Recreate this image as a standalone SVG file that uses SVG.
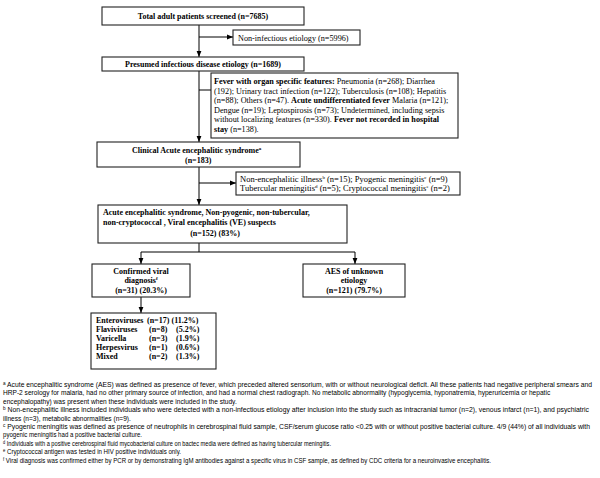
<svg xmlns="http://www.w3.org/2000/svg" width="600" height="478" viewBox="0 0 600 478">
<defs>
<marker id="ah" markerUnits="userSpaceOnUse" markerWidth="6" markerHeight="6" viewBox="0 0 6 6" refX="6" refY="3" orient="auto">
<path d="M0,0.6 L6,3 L0,5.4 Z" fill="#000"/>
</marker>
<style>
.box{fill:#fff;stroke:#222;stroke-width:1.1}
.t{font-family:"Liberation Serif","Times New Roman",serif;font-size:8px;fill:#000}
.r{font-size:8.2px}
.b{font-weight:bold}
.c{text-anchor:middle}
.sup{font-size:5px}
.ln{fill:none;stroke:#000;stroke-width:1}
.fn{font-family:"Liberation Sans",Arial,sans-serif;font-size:6.6px;fill:#000}
.fs{font-size:4.5px}
</style>
</defs>
<rect width="600" height="478" fill="#fff"/>
<g id="connectors">
<path class="ln" d="M199,25 V57" marker-end="url(#ah)"/>
<path class="ln" d="M199,37 H233" marker-end="url(#ah)"/>
<path class="ln" d="M199,71 V142" marker-end="url(#ah)"/>
<path class="ln" d="M199,90 H211"/>
<path class="ln" d="M199,167 V205" marker-end="url(#ah)"/>
<path class="ln" d="M199,183 H236" marker-end="url(#ah)"/>
<path class="ln" d="M199,243 V252 M141,252 H355"/>
<path class="ln" d="M141,252 V264" marker-end="url(#ah)"/>
<path class="ln" d="M355,252 V264" marker-end="url(#ah)"/>
<path class="ln" d="M141,297 V313" marker-end="url(#ah)"/>
</g>
<g id="n1">
<rect class="box" x="102" y="7" width="202" height="18"/>
<text class="t b c" x="203" y="19">Total adult patients screened (n=7685)</text>
</g>
<g id="n2">
<rect class="box" x="233" y="30" width="127" height="15"/>
<text class="t r" x="238" y="40.5">Non-infectious etiology (n=5996)</text>
</g>
<g id="n3">
<rect class="box" x="102" y="57" width="202" height="14"/>
<text class="t b c" x="203" y="67">Presumed infectious disease etiology (n=1689)</text>
</g>
<g id="n4">
<rect class="box" x="211" y="73" width="247" height="65"/>
<text class="t r" x="214" y="84"><tspan class="b">Fever with organ specific features:</tspan> Pneumonia (n=268); Diarrhea</text>
<text class="t r" x="214" y="93.5">(192); Urinary tract infection (n=122); Tuberculosis (n=108); Hepatitis</text>
<text class="t r" x="214" y="103">(n=88); Others (n=47). <tspan class="b">Acute undifferentiated fever</tspan> Malaria (n=121);</text>
<text class="t r" x="214" y="112.5">Dengue (n=19); Leptospirosis (n=73); Undetermined, including sepsis</text>
<text class="t r" x="214" y="122">without localizing features (n=330). <tspan class="b">Fever not recorded in hospital</tspan></text>
<text class="t r" x="214" y="131.5"><tspan class="b">stay</tspan> (n=138).</text>
</g>
<g id="n5">
<rect class="box" x="97" y="142" width="203" height="25"/>
<text class="t b" x="132" y="152.5">Clinical Acute encephalitic syndrome<tspan class="sup" dy="-3">a</tspan></text>
<text class="t b" x="185" y="163">(n=183)</text>
</g>
<g id="n6">
<rect class="box" x="236" y="172" width="224" height="23"/>
<text class="t" style="font-size:8.5px" x="240" y="181.5">Non-encephalitic illness<tspan class="sup" dy="-3">b</tspan><tspan dy="3"> (n=15); Pyogenic meningitis</tspan><tspan class="sup" dy="-3">c</tspan><tspan dy="3"> (n=9)</tspan></text>
<text class="t" style="font-size:8.5px" x="240" y="191">Tubercular meningitis<tspan class="sup" dy="-3">d</tspan><tspan dy="3"> (n=5); Cryptococcal meningitis</tspan><tspan class="sup" dy="-3">e</tspan><tspan dy="3"> (n=2)</tspan></text>
</g>
<g id="n7">
<rect class="box" x="98" y="205" width="249" height="38"/>
<text class="t b" x="103" y="215">Acute encephalitic syndrome, Non-pyogenic, non-tubercular,</text>
<text class="t b" x="103" y="225">non-cryptococcal , Viral encephalitis (VE) suspects</text>
<text class="t b c" x="215" y="236">(n=152) (83%)</text>
</g>
<g id="n8">
<rect class="box" x="92" y="264" width="98" height="33"/>
<text class="t b c" x="141" y="273.5">Confirmed viral</text>
<text class="t b c" x="141" y="283">diagnosis<tspan class="sup" dy="-3">f</tspan></text>
<text class="t b c" x="141" y="292.5">(n=31) (20.3%)</text>
</g>
<g id="n9">
<rect class="box" x="303" y="264" width="102" height="33"/>
<text class="t b c" x="354" y="273.5">AES of unknown</text>
<text class="t b c" x="354" y="283">etiology</text>
<text class="t b c" x="354" y="292.5">(n=121) (79.7%)</text>
</g>
<g id="n10">
<rect class="box" x="91" y="313" width="125" height="56"/>
<text class="t b" x="96" y="323">Enteroviruses</text><text class="t b" x="147" y="323">(n=17)</text><text class="t b" x="171.5" y="323">(11.2%)</text>
<text class="t b" x="96" y="332">Flaviviruses</text><text class="t b" x="149" y="332">(n=8)</text><text class="t b" x="176" y="332">(5.2%)</text>
<text class="t b" x="96" y="341">Varicella</text><text class="t b" x="149" y="341">(n=3)</text><text class="t b" x="176" y="341">(1.9%)</text>
<text class="t b" x="96" y="350">Herpesvirus</text><text class="t b" x="149" y="350">(n=1)</text><text class="t b" x="176" y="350">(0.6%)</text>
<text class="t b" x="96" y="359">Mixed</text><text class="t b" x="149" y="359">(n=2)</text><text class="t b" x="176" y="359">(1.3%)</text>
</g>
<g id="footnotes">
<text class="fn" x="3" y="387" textLength="589" lengthAdjust="spacingAndGlyphs"><tspan class="fs" dy="-2">a</tspan><tspan dy="2"> Acute encephalitic syndrome (AES) was defined as presence of fever, which preceded altered sensorium, with or without neurological deficit. All these patients had negative peripheral smears and</tspan></text>
<text class="fn" x="3" y="395.4">HRP-2 serology for malaria, had no other primary source of infection, and had a normal chest radiograph. No metabolic abnormality (hypoglycemia, hyponatremia, hyperuricemia or hepatic</text>
<text class="fn" x="3" y="403.8">encephalopathy) was present when these individuals were included in the study.</text>
<text class="fn" x="3" y="412.2" textLength="586" lengthAdjust="spacingAndGlyphs"><tspan class="fs" dy="-2">b</tspan><tspan dy="2"> Non-encephalitic illness included individuals who were detected with a non-infectious etiology after inclusion into the study such as intracranial tumor (n=2), venous infarct (n=1), and  psychiatric</tspan></text>
<text class="fn" x="3" y="420.6">illness (n=3), metabolic abnormalities (n=9).</text>
<text class="fn" x="3" y="429" textLength="587" lengthAdjust="spacingAndGlyphs"><tspan class="fs" dy="-2">c</tspan><tspan dy="2"> Pyogenic meningitis was defined as presence of neutrophils in cerebrospinal fluid sample, CSF/serum glucose ratio &lt;0.25 with or without positive bacterial culture. 4/9 (44%) of all individuals with</tspan></text>
<text class="fn" x="3" y="437.4" textLength="139" lengthAdjust="spacingAndGlyphs">pyogenic meningitis had a positive bacterial culture.</text>
<text class="fn" x="3" y="445.8" textLength="328" lengthAdjust="spacingAndGlyphs"><tspan class="fs" dy="-2">d</tspan><tspan dy="2"> Individuals with a positive cerebrospinal fluid mycobacterial culture on bactec media were defined as having tubercular meningitis.</tspan></text>
<text class="fn" x="3" y="454.2" textLength="178" lengthAdjust="spacingAndGlyphs"><tspan class="fs" dy="-2">e</tspan><tspan dy="2"> Cryptococcal antigen was tested in HIV positive individuals only.</tspan></text>
<text class="fn" x="3" y="462.6" textLength="488" lengthAdjust="spacingAndGlyphs"><tspan class="fs" dy="-2">f</tspan><tspan dy="2"> Viral diagnosis was confirmed either by PCR or by demonstrating IgM antibodies against a specific virus in CSF sample, as defined by CDC criteria for a neuroinvasive encephalitis.</tspan></text>
</g>
</svg>
